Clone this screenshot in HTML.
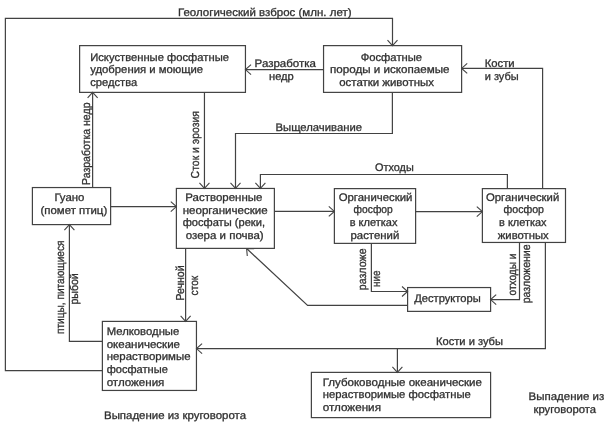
<!DOCTYPE html>
<html lang="ru"><head><meta charset="utf-8"><title>Круговорот фосфора</title>
<style>
html,body{margin:0;padding:0;background:#fff;}
body{width:612px;height:427px;overflow:hidden;}
svg{display:block;filter:grayscale(1);}
svg text{text-rendering:geometricPrecision;font-family:"Liberation Sans",Arial,sans-serif;font-size:11.0px;fill:#303030;stroke:#303030;stroke-width:0.3px;}
svg text.r{font-size:11.5px;}
.ln path,.ln rect{fill:none;stroke:#424242;stroke-width:1.2;}
.ln path.ah{stroke:#444;stroke-width:1.1;}
</style></head>
<body>
<svg width="612" height="427" viewBox="0 0 612 427">
<rect width="612" height="427" fill="#ffffff"/>
<g>
<g class="ln">
<rect x="79.62" y="45.62" width="165.83" height="46.76"/>
<rect x="323.55" y="45.62" width="138.07" height="46.76"/>
<rect x="32.4" y="187.55" width="78.22" height="37.05"/>
<rect x="176.38" y="188.45" width="98.0" height="59.93"/>
<rect x="334.38" y="188.62" width="81.24" height="54.76"/>
<rect x="482.38" y="188.62" width="83.12" height="53.83"/>
<rect x="407.6" y="287.55" width="83.0" height="23.83"/>
<rect x="311.38" y="372.38" width="179.22" height="45.24"/>
<rect x="102.38" y="321.4" width="94.07" height="69.05"/>
<path d="M102.38,370.55 L5.38,370.55 L5.38,18.4 L392.5,18.4 L392.5,45.62"/>
<path class="ah" d="M387.5,40.02 L392.5,45.62 L397.5,40.02"/>
<path d="M323.55,69.55 L245.45,69.55"/>
<path class="ah" d="M251.05,64.55 L245.45,69.55 L251.05,74.55"/>
<path d="M542.6,188.62 L542.6,68.38 L461.62,68.38"/>
<path class="ah" d="M467.22,63.38 L461.62,68.38 L467.22,73.38"/>
<path d="M92.62,187.55 L92.62,92.38"/>
<path class="ah" d="M97.62,97.98 L92.62,92.38 L87.62,97.98"/>
<path d="M204.45,92.38 L204.45,188.45"/>
<path class="ah" d="M199.45,182.85 L204.45,188.45 L209.45,182.85"/>
<path d="M392.38,92.38 L392.38,133.5 L235.5,133.5 L235.5,188.45"/>
<path class="ah" d="M230.5,182.85 L235.5,188.45 L240.5,182.85"/>
<path d="M507.38,188.62 L507.38,174.5 L260.4,174.5 L260.4,188.45"/>
<path class="ah" d="M255.4,182.85 L260.4,188.45 L265.4,182.85"/>
<path d="M110.62,206.62 L176.38,206.62"/>
<path class="ah" d="M170.78,211.62 L176.38,206.62 L170.78,201.62"/>
<path d="M274.38,211.38 L334.38,211.38"/>
<path class="ah" d="M328.78,216.38 L334.38,211.38 L328.78,206.38"/>
<path d="M415.62,211.55 L482.38,211.55"/>
<path class="ah" d="M476.78,216.55 L482.38,211.55 L476.78,206.55"/>
<path d="M371.38,243.38 L371.38,291.5 L407.6,291.5"/>
<path class="ah" d="M402.0,296.5 L407.6,291.5 L402.0,286.5"/>
<path d="M519.5,242.45 L519.5,299.62 L490.6,299.62"/>
<path class="ah" d="M496.2,294.62 L490.6,299.62 L496.2,304.62"/>
<path d="M407.6,305.38 L307.6,305.38 L246.6,248.55"/>
<path class="ah" d="M254.11,248.71 L246.6,248.55 L247.29,256.03"/>
<path d="M545.38,242.45 L545.38,348.55 L196.5,348.55"/>
<path class="ah" d="M202.1,343.55 L196.5,348.55 L202.1,353.55"/>
<path d="M397.4,348.55 L397.4,372.38"/>
<path class="ah" d="M392.4,366.78 L397.4,372.38 L402.4,366.78"/>
<path d="M185.62,248.38 L185.62,321.45"/>
<path class="ah" d="M180.62,315.85 L185.62,321.45 L190.62,315.85"/>
<path d="M102.38,341.38 L69.4,341.38 L69.4,224.62"/>
<path class="ah" d="M74.4,230.22 L69.4,224.62 L64.4,230.22"/>
</g>
<g>
<text x="178" y="16.1" textLength="173.5" lengthAdjust="spacingAndGlyphs">Геологический взброс (млн. лет)</text>
<text x="90.2" y="60.6" textLength="138.8" lengthAdjust="spacingAndGlyphs">Искуственные фосфатные</text>
<text x="90.2" y="73.0" textLength="112.9" lengthAdjust="spacingAndGlyphs">удобрения и моющие</text>
<text x="90.2" y="85.5" textLength="47.1" lengthAdjust="spacingAndGlyphs">средства</text>
<text x="360.7" y="60.6" textLength="61.4" lengthAdjust="spacingAndGlyphs">Фосфатные</text>
<text x="330" y="73.0" textLength="119.5" lengthAdjust="spacingAndGlyphs">породы и ископаемые</text>
<text x="339.2" y="85.5" textLength="94.7" lengthAdjust="spacingAndGlyphs">остатки животных</text>
<text x="254.6" y="67.2" textLength="61.4" lengthAdjust="spacingAndGlyphs">Разработка</text>
<text x="269" y="80.0" textLength="24.8" lengthAdjust="spacingAndGlyphs">недр</text>
<text x="484.7" y="67.3" textLength="30.0" lengthAdjust="spacingAndGlyphs">Кости</text>
<text x="484.7" y="80.0" textLength="34.0" lengthAdjust="spacingAndGlyphs">и зубы</text>
<text x="275.5" y="131.3" textLength="86.5" lengthAdjust="spacingAndGlyphs">Выщелачивание</text>
<text x="375" y="170.9" textLength="38.7" lengthAdjust="spacingAndGlyphs">Отходы</text>
<text x="54.4" y="200.9" textLength="30.0" lengthAdjust="spacingAndGlyphs">Гуано</text>
<text x="40.5" y="213.9" textLength="66.7" lengthAdjust="spacingAndGlyphs">(помет птиц)</text>
<text x="185.3" y="200.9" textLength="77.1" lengthAdjust="spacingAndGlyphs">Растворенные</text>
<text x="182.7" y="213.9" textLength="84.9" lengthAdjust="spacingAndGlyphs">неорганические</text>
<text x="182.7" y="226.4" textLength="82.3" lengthAdjust="spacingAndGlyphs">фосфаты (реки,</text>
<text x="185.8" y="239.0" textLength="77.9" lengthAdjust="spacingAndGlyphs">озера и почва)</text>
<text x="338.7" y="200.9" textLength="73.7" lengthAdjust="spacingAndGlyphs">Органический</text>
<text x="353.6" y="213.3" textLength="39.2" lengthAdjust="spacingAndGlyphs">фосфор</text>
<text x="349.7" y="226.4" textLength="47.8" lengthAdjust="spacingAndGlyphs">в клетках</text>
<text x="350.5" y="239.0" textLength="48.8" lengthAdjust="spacingAndGlyphs">растений</text>
<text x="486" y="200.9" textLength="73.2" lengthAdjust="spacingAndGlyphs">Органический</text>
<text x="503.5" y="213.3" textLength="40.5" lengthAdjust="spacingAndGlyphs">фосфор</text>
<text x="499" y="226.4" textLength="47.6" lengthAdjust="spacingAndGlyphs">в клетках</text>
<text x="497.8" y="239.0" textLength="50.9" lengthAdjust="spacingAndGlyphs">животных</text>
<text x="414.2" y="302.3" textLength="66.6" lengthAdjust="spacingAndGlyphs">Деструкторы</text>
<text x="436" y="344.7" textLength="67" lengthAdjust="spacingAndGlyphs">Кости и зубы</text>
<text x="322.7" y="386.1" textLength="159.3" lengthAdjust="spacingAndGlyphs">Глубоководные океанические</text>
<text x="322.7" y="398.3" textLength="148.1" lengthAdjust="spacingAndGlyphs">нерастворимые фосфатные</text>
<text x="322.7" y="410.6" textLength="58.3" lengthAdjust="spacingAndGlyphs">отложения</text>
<text x="106.7" y="334.8" textLength="72.6" lengthAdjust="spacingAndGlyphs">Мелководные</text>
<text x="106.7" y="347.6" textLength="73.3" lengthAdjust="spacingAndGlyphs">океанические</text>
<text x="106.7" y="360.4" textLength="83.8" lengthAdjust="spacingAndGlyphs">нерастворимые</text>
<text x="106.7" y="373.2" textLength="61.1" lengthAdjust="spacingAndGlyphs">фосфатные</text>
<text x="106.7" y="386.1" textLength="57.7" lengthAdjust="spacingAndGlyphs">отложения</text>
<text x="104" y="419.3" textLength="142" lengthAdjust="spacingAndGlyphs">Выпадение из круговорота</text>
<text x="528.6" y="399.6" textLength="75.6" lengthAdjust="spacingAndGlyphs">Выпадение из</text>
<text x="533.5" y="412.8" textLength="62.5" lengthAdjust="spacingAndGlyphs">круговорота</text>
<text class="r" transform="translate(89.5,185) rotate(-90)" textLength="82.5" lengthAdjust="spacingAndGlyphs">Разработка недр</text>
<text class="r" transform="translate(199.3,178.4) rotate(-90)" textLength="67.4" lengthAdjust="spacingAndGlyphs">Сток и эрозия</text>
<text class="r" transform="translate(183.5,300.6) rotate(-90)" textLength="35.2" lengthAdjust="spacingAndGlyphs">Речной</text>
<text class="r" transform="translate(198.4,295.4) rotate(-90)" textLength="19.6" lengthAdjust="spacingAndGlyphs">сток</text>
<text class="r" transform="translate(63.8,334) rotate(-90)" textLength="93.5" lengthAdjust="spacingAndGlyphs">птицы, питающиеся</text>
<text class="r" transform="translate(78,304.6) rotate(-90)" textLength="31.4" lengthAdjust="spacingAndGlyphs">рыбой</text>
<text class="r" transform="translate(366,290.2) rotate(-90)" textLength="41.8" lengthAdjust="spacingAndGlyphs">разложе</text>
<text class="r" transform="translate(380,287) rotate(-90)" textLength="16.4" lengthAdjust="spacingAndGlyphs">ние</text>
<text class="r" transform="translate(515.5,295.4) rotate(-90)" textLength="41.8" lengthAdjust="spacingAndGlyphs">отходы и</text>
<text class="r" transform="translate(530,303.3) rotate(-90)" textLength="58.9" lengthAdjust="spacingAndGlyphs">разложение</text>
</g>
</g>
</svg>
</body></html>
